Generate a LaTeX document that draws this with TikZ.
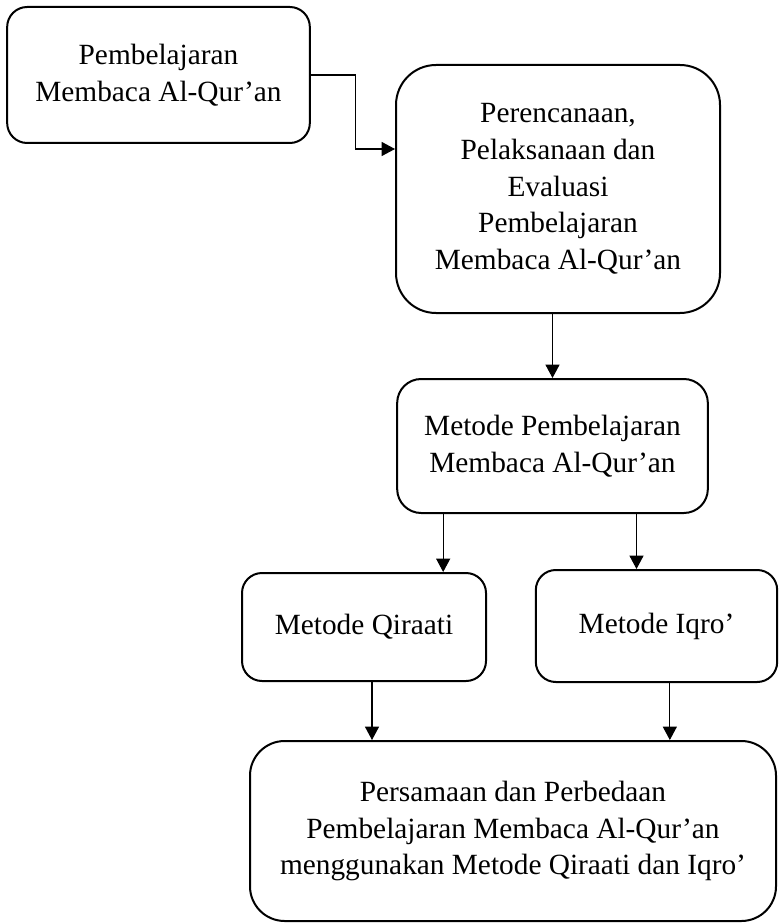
\documentclass[tikz,border=0pt]{standalone}
\usepackage{fontspec}
\setmainfont{Liberation Serif}
\usetikzlibrary{arrows.meta}

\begin{document}
\begin{tikzpicture}[
    x=0.75pt, y=-0.75pt,
    box/.style={draw, line width=1.5pt, rounded corners=15pt, align=center,
        inner sep=0pt, font=\fontsize{22}{27.5}\selectfont},
    arrow/.style={-{Triangle[length=10pt, width=10.5pt]}, line width=0.8pt}
]
    \useasboundingbox (0, 0) rectangle (778, 923);

    % top row
    \node [box, minimum width=227pt, minimum height=102pt] (learn) at (158.5, 75)
        {Pembelajaran\\Membaca Al-Qur’an};
    \node [box, rounded corners=30pt, minimum width=243pt, minimum height=186pt]
        (plan) at (558, 189)
        {Perencanaan,\\Pelaksanaan dan\\Evaluasi\\Pembelajaran\\Membaca Al-Qur’an};

    % method
    \node [box, rounded corners=18pt, minimum width=233pt, minimum height=100.5pt]
        (method) at (552.5, 446)
        {Metode Pembelajaran\\Membaca Al-Qur’an};

    % the two methods
    \node [box, minimum width=183pt, minimum height=81pt] (qiraati) at (364, 627)
        {Metode Qiraati};
    \node [box, minimum width=181pt, minimum height=84pt] (iqro) at (656.5, 626)
        {Metode Iqro’};

    % result
    \node [box, rounded corners=26pt, minimum width=394.5pt, minimum height=135pt]
        (compare) at (513, 831)
        {Persamaan dan Perbedaan\\Pembelajaran Membaca Al-Qur’an\\menggunakan
        Metode Qiraati dan Iqro’};

    % connectors
    \draw[arrow] (learn.east) -- ++(45, 0) |- ([yshift=30pt]plan.west);

    \draw[arrow] (method.north |- plan.south) -- (method.north);

    \draw[arrow]
        ([xshift=-82pt]method.south)
        --
        ([xshift=-82pt]method.south |- qiraati.north);
    \draw[arrow]
        ([xshift=63pt]method.south)
        --
        ([xshift=63pt]method.south |- iqro.north);

    \draw[arrow]
        ([xshift=6pt]qiraati.south)
        --
        ([xshift=6pt]qiraati.south |- compare.north);
    \draw[arrow]
        ([xshift=10pt]iqro.south)
        --
        ([xshift=10pt]iqro.south |- compare.north);

\end{tikzpicture}
\end{document}
